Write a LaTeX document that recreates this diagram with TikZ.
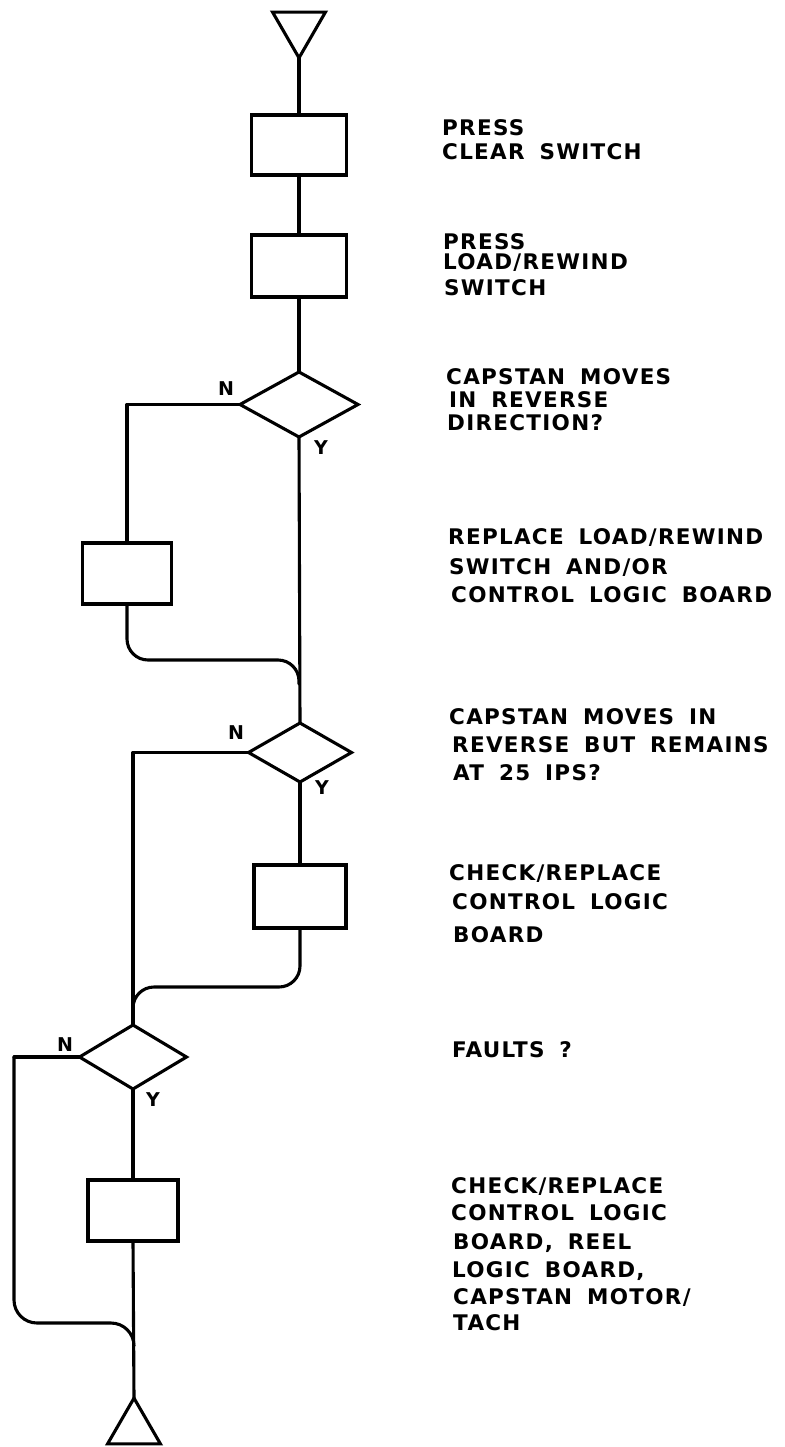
\documentclass[tikz,border=0pt]{standalone}
\usepackage{fontspec}
\setmainfont{DejaVu Sans}
\newfontfamily\lettering[LetterSpace=6,WordSpace=1.7]{DejaVu Sans}
\usetikzlibrary{shapes.geometric}

\begin{document}
\begin{tikzpicture}[x=1pt,y=-1pt,
  flow/.style={draw, line width=3.1pt, line cap=round, line join=round},
  procbox/.style={draw, rectangle, line width=3.1pt, inner sep=0pt, outer sep=0pt, minimum width=93pt, minimum height=61pt},
  decision/.style={draw, diamond, line width=3.1pt, inner sep=0pt, outer sep=0pt},
  terminal/.style={draw, regular polygon, regular polygon sides=3, minimum size=61pt, inner sep=0pt, outer sep=0pt, line width=3.1pt, line join=miter},
  note/.style={font=\lettering\bfseries\fontsize{21.5}{25}\selectfont, anchor=base west, inner sep=0pt},
  yn/.style={font=\lettering\bfseries\fontsize{19}{20}\selectfont, inner sep=0pt}
]
\useasboundingbox (0,0) rectangle (784,1447);
\fill[white] (0,0) rectangle (784,1447);

% terminals
\node[terminal, shape border rotate=180] (start) at (299,27.4) {};
\node[terminal] (stop) at (134,1428.6) {};

% process boxes
\node[procbox, minimum width=95pt, minimum height=60pt] (b1) at (299,145) {};
\node[procbox, minimum width=95pt, minimum height=62pt] (b2) at (299,266) {};
\node[procbox, minimum width=89pt] (b3) at (127,573.5) {};
\node[procbox, minimum width=92pt, minimum height=63pt] (b4) at (300,896.5) {};
\node[procbox, minimum width=90pt] (b5) at (133,1210.5) {};

% decisions
\node[decision, minimum width=118pt, minimum height=65pt] (d1) at (299,404.5) {};
\node[decision, minimum width=103pt, minimum height=59pt] (d2) at (300,752.5) {};
\node[decision, minimum width=107pt, minimum height=64pt] (d3) at (133,1057) {};

% helper coordinates
\coordinate (m1a) at (299,660);
\coordinate (m1) at (299,684);
\coordinate (m2a) at (133,987);
\coordinate (m2) at (133,1010);
\coordinate (n3) at (14,1057);
\coordinate (m3a) at (134,1323);
\coordinate (m3) at (134,1346);

% connectors
\draw[flow] (start.corner 1) -- (b1.north);
\draw[flow] (b1.south) -- (b2.north);
\draw[flow] (b2.south) -- (d1.north);
\draw[flow] (d1.west) -| (b3.north);
\draw[flow] (d1.south) -- (d2.north);
\draw[flow, rounded corners=21pt] (b3.south) |- (m1a) -- (m1);
\draw[flow] (d2.west) -| (d3.north);
\draw[flow] (d2.south) -- (b4.north);
\draw[flow, rounded corners=21pt] (b4.south) |- (m2a) -- (m2);
\draw[flow] (d3.west) -- (n3);
\draw[flow, rounded corners=23pt] (n3) |- (m3a) -- (m3);
\draw[flow] (d3.south) -- (b5.north);
\draw[flow] (b5.south) -- (stop.corner 1);

% Y / N labels
\node[yn] (n1l) at (226,389) {N};
\node[yn] (y1l) at (321,448) {Y};
\node[yn] (n2l) at (236,733) {N};
\node[yn] (y2l) at (322,788) {Y};
\node[yn] (n3l) at (65,1045) {N};
\node[yn] (y3l) at (153,1100) {Y};

% descriptions
\node[note] (t1a) at (442,135.5) {PRESS};
\node[note] (t1b) at (442,159.5) {CLEAR SWITCH};
\node[note] (t2a) at (443,249.5) {PRESS};
\node[note] (t2b) at (443,269.5) {LOAD/REWIND};
\node[note] (t2c) at (444,295.5) {SWITCH};
\node[note] (t3a) at (446,384.5) {CAPSTAN MOVES};
\node[note] (t3b) at (449,407.5) {IN REVERSE};
\node[note] (t3c) at (447,430.5) {DIRECTION?};
\node[note] (t4a) at (448,544.5) {REPLACE LOAD/REWIND};
\node[note] (t4b) at (449,574.5) {SWITCH AND/OR};
\node[note] (t4c) at (451,602.5) {CONTROL LOGIC BOARD};
\node[note] (t5a) at (449,724.5) {CAPSTAN MOVES IN};
\node[note] (t5b) at (452,752.5) {REVERSE BUT REMAINS};
\node[note] (t5c) at (453,780.5) {AT 25 IPS?};
\node[note] (t6a) at (449,880.5) {CHECK/REPLACE};
\node[note] (t6b) at (452,909.5) {CONTROL LOGIC};
\node[note] (t6c) at (453,942.5) {BOARD};
\node[note] (t7) at (452,1057.5) {FAULTS ?};
\node[note] (t8a) at (451,1193.5) {CHECK/REPLACE};
\node[note] (t8b) at (451,1220.5) {CONTROL LOGIC};
\node[note] (t8c) at (453,1249.5) {BOARD, REEL};
\node[note] (t8d) at (452,1277.5) {LOGIC BOARD,};
\node[note] (t8e) at (453,1304.5) {CAPSTAN MOTOR/};
\node[note] (t8f) at (453,1330.5) {TACH};
\end{tikzpicture}
\end{document}
